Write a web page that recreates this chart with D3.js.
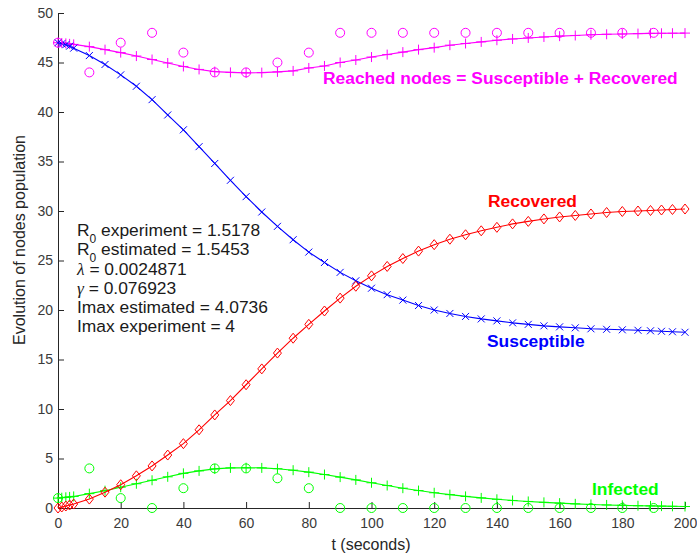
<!DOCTYPE html>
<html>
<head>
<meta charset="utf-8">
<script src="https://cdn.jsdelivr.net/npm/d3@7"></script>
<style>
  body { margin: 0; background: #fff; }
  svg { display: block; font-family: "Liberation Sans", Arial, sans-serif; }
</style>
</head>
<body>
<svg id="chart" width="697" height="559"></svg>
<script>
// model time points (ODE output)
var tModel = [0, 1.2, 2.5, 3.7, 5, 10, 15, 20, 25, 30, 35, 40, 45, 50, 55, 60, 65, 70, 75, 80,
  85, 90, 95, 100, 105, 110, 115, 120, 125, 130, 135, 140, 145, 150, 155, 160, 165, 170, 175, 180,
  185, 189, 192.5, 196, 200];

var susceptible = [47, 46.9, 46.8, 46.65, 46.45, 45.7, 44.8, 43.75, 42.6, 41.25, 39.7, 38.2, 36.5, 34.8, 33.1, 31.45, 29.9, 28.45, 27.1, 25.85,
  24.8, 23.8, 22.95, 22.2, 21.55, 21.0, 20.45, 20.0, 19.65, 19.35, 19.1, 18.9, 18.7, 18.55, 18.4, 18.3, 18.2, 18.1, 18.05, 18.0,
  17.95, 17.9, 17.85, 17.8, 17.75];

var infected = [1.0, 1.04, 1.08, 1.12, 1.17, 1.45, 1.75, 2.1, 2.45, 2.8, 3.15, 3.5, 3.75, 3.95, 4.05, 4.07, 4.05, 3.97, 3.82, 3.62,
  3.38, 3.12, 2.84, 2.55, 2.27, 2.0, 1.76, 1.54, 1.35, 1.17, 1.02, 0.88, 0.76, 0.66, 0.57, 0.49, 0.42, 0.36, 0.31, 0.27,
  0.23, 0.21, 0.19, 0.17, 0.15];

var recovered = [0, 0.1, 0.2, 0.3, 0.4, 0.9, 1.6, 2.35, 3.25, 4.25, 5.35, 6.5, 7.9, 9.4, 10.85, 12.45, 14.05, 15.65, 17.15, 18.55,
  19.9, 21.2, 22.4, 23.45, 24.4, 25.2, 25.95, 26.6, 27.15, 27.6, 28.0, 28.35, 28.7, 28.95, 29.2, 29.4, 29.55, 29.7, 29.85, 29.95,
  30.0, 30.05, 30.1, 30.15, 30.2];

var reached = [47, 46.97, 46.93, 46.88, 46.83, 46.6, 46.3, 46.0, 45.65, 45.3, 44.95, 44.6, 44.3, 44.08, 44.0, 43.95, 43.98, 44.05, 44.15, 44.45,
  44.65, 45.0, 45.25, 45.55, 45.8, 46.05, 46.3, 46.5, 46.75, 46.92, 47.08, 47.25, 47.38, 47.48, 47.58, 47.66, 47.73, 47.8, 47.85, 47.88,
  47.92, 47.94, 47.95, 47.96, 47.97];

// experiment samples
var tExp = [0, 10, 20, 30, 40, 50, 60, 70, 80, 90, 100, 110, 120, 130, 140, 150, 160, 170, 180, 190];
var infectedExp = [1, 4, 1, 0, 2, 4, 4, 3, 2, 0, 0, 0, 0, 0, 0, 0, 0, 0, 0, 0];
var reachedExp = [47, 44, 47, 48, 46, 44, 44, 45, 46, 48, 48, 48, 48, 48, 48, 48, 48, 48, 48, 48];

var xTicks = [0, 20, 40, 60, 80, 100, 120, 140, 160, 180, 200];
var yTicks = [0, 5, 10, 15, 20, 25, 30, 35, 40, 45, 50];

var svg = d3.select('#chart');
var axisColor = '#262626';

var x = d3.scaleLinear().domain([0, 200]).range([58, 685]);
var y = d3.scaleLinear().domain([0, 50]).range([508, 13]);

// axes
var xAxis = svg.append('g')
    .attr('transform', 'translate(0,' + y(0) + ')')
    .call(d3.axisBottom(x).tickValues(xTicks).tickSizeInner(-6).tickSizeOuter(0).tickPadding(10));

var yAxis = svg.append('g')
    .attr('transform', 'translate(' + x(0) + ',0)')
    .call(d3.axisLeft(y).tickValues(yTicks).tickSizeInner(-6).tickSizeOuter(0).tickPadding(5));

[xAxis, yAxis].forEach(function(a) {
    a.select('.domain').attr('stroke', axisColor);
    a.selectAll('.tick line').attr('stroke', axisColor);
    a.selectAll('.tick text')
        .attr('fill', '#3a3a3a')
        .style('font-size', '14px')
        .style('font-family', '"Liberation Sans", Arial, sans-serif');
});

svg.append('text')
    .attr('x', 371)
    .attr('y', 550)
    .attr('text-anchor', 'middle')
    .attr('fill', '#262626')
    .style('font-size', '16px')
    .text('t (seconds)');

svg.append('text')
    .attr('transform', 'translate(25,240) rotate(-90)')
    .attr('text-anchor', 'middle')
    .attr('fill', '#262626')
    .style('font-size', '16px')
    .text('Evolution of nodes population');

// markers
var markers = {
    plus: 'M-5,0H5M0,-5V5',
    cross: 'M-3.5,-3.5L3.5,3.5M-3.5,3.5L3.5,-3.5',
    diamond: 'M0,-5L4,0L0,5L-4,0Z'
};

function drawSeries(ts, vs, color, marker, withLine) {
    var pts = ts.map(function(t, i) { return [t, vs[i]]; });
    var g = svg.append('g');

    if (withLine) {
        g.append('path')
            .datum(pts)
            .attr('fill', 'none')
            .attr('stroke', color)
            .attr('stroke-width', 1.1)
            .attr('d', d3.line().x(function(d) { return x(d[0]); }).y(function(d) { return y(d[1]); }));
    }

    if (marker === 'circle') {
        g.selectAll('circle')
            .data(pts)
            .enter().append('circle')
            .attr('cx', function(d) { return x(d[0]); })
            .attr('cy', function(d) { return y(d[1]); })
            .attr('r', 4.5)
            .attr('fill', 'none')
            .attr('stroke', color)
            .attr('stroke-width', 1);
    } else {
        g.selectAll('path.mk')
            .data(pts)
            .enter().append('path')
            .attr('class', 'mk')
            .attr('transform', function(d) { return 'translate(' + x(d[0]) + ',' + y(d[1]) + ')'; })
            .attr('d', markers[marker])
            .attr('fill', 'none')
            .attr('stroke', color)
            .attr('stroke-width', 1);
    }
}

drawSeries(tModel, reached, '#ff00ff', 'plus', true);
drawSeries(tModel, susceptible, '#0000ff', 'cross', true);
drawSeries(tModel, infected, '#00ff00', 'plus', true);
drawSeries(tModel, recovered, '#ff0000', 'diamond', true);
drawSeries(tExp, infectedExp, '#00ff00', 'circle', false);
drawSeries(tExp, reachedExp, '#ff00ff', 'circle', false);

// curve labels
var labels = [
    { text: 'Reached nodes = Susceptible + Recovered', x: 323, y: 83.5, color: '#ff00ff' },
    { text: 'Recovered', x: 488, y: 207, color: '#ff0000' },
    { text: 'Susceptible', x: 487, y: 347, color: '#0000ff' },
    { text: 'Infected', x: 592, y: 494.5, color: '#00ff00' }
];

svg.selectAll('text.curve-label')
    .data(labels)
    .enter().append('text')
    .attr('class', 'curve-label')
    .attr('x', function(d) { return d.x; })
    .attr('y', function(d) { return d.y; })
    .attr('fill', function(d) { return d.color; })
    .style('font-size', '17.4px')
    .style('font-weight', 'bold')
    .text(function(d) { return d.text; });

// fitted parameters
var info = svg.append('g')
    .attr('fill', '#1a1a1a')
    .style('font-size', '17.4px');

function subLine(yPos, rest) {
    var t = info.append('text').attr('x', 77).attr('y', yPos);
    t.append('tspan').text('R');
    t.append('tspan').attr('dy', 7).style('font-size', '12px').text('0');
    t.append('tspan').attr('dy', -7).text(rest);
}

function greekLine(yPos, sym, rest) {
    var t = info.append('text').attr('x', 77).attr('y', yPos);
    t.append('tspan')
        .style('font-family', '"Liberation Serif", serif')
        .style('font-style', 'italic')
        .text(sym);
    t.append('tspan').text(rest);
}

subLine(236, ' experiment = 1.5178');
subLine(255, ' estimated = 1.5453');
greekLine(274.5, 'λ', ' = 0.0024871');
greekLine(293.5, 'γ', ' = 0.076923');
info.append('text').attr('x', 77).attr('y', 313).text('Imax estimated = 4.0736');
info.append('text').attr('x', 77).attr('y', 332).text('Imax experiment = 4');
</script>
</body>
</html>
